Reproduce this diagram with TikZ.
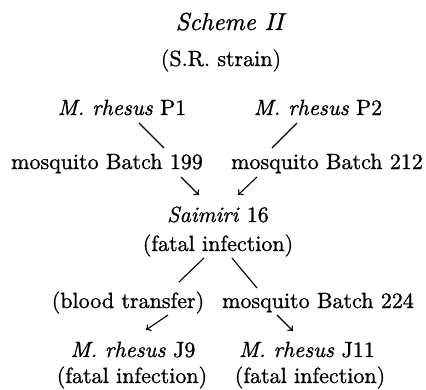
\documentclass[tikz,border=0pt]{standalone}
\usepackage{fontspec}
\newfontfamily\heavyface{lmroman10-regular.otf}[FakeBold=1, ItalicFont=lmroman10-italic.otf, ItalicFeatures={FakeBold=1}]
\usetikzlibrary{arrows.meta}
\begin{document}
\begin{tikzpicture}[x=1pt,y=-1pt,
  txt/.style={anchor=base, inner sep=0pt, font=\heavyface\fontsize{22}{26}\selectfont},
  link/.style={line width=1.1pt},
  arr/.style={link,-{To[length=4.5pt,width=8pt]}}]
\useasboundingbox (0,0) rectangle (426,389);
\node[txt, font=\heavyface\fontsize{24.5}{28}\selectfont] (title) at (231,30) {\textit{Scheme II}};
\node[txt] (strain) at (221,66) {(S.R. strain)};
\node[txt] (p1) at (122,115) {\textit{M. rhesus} P1};
\node[txt] (p2) at (318,115) {\textit{M. rhesus} P2};
\node[txt] (b199) at (107,169) {mosquito Batch 199};
\node[txt] (b212) at (327,169) {mosquito Batch 212};
\node[txt] (saimiri) at (218,222) {\textit{Saimiri} 16};
\node[txt] (fatal) at (218,251) {(fatal infection)};
\node[txt] (blood) at (128,308) {(blood transfer)};
\node[txt] (b224) at (318,308) {mosquito Batch 224};
\node[txt] (j9) at (133,357) {\textit{M. rhesus} J9};
\node[txt] (j11) at (307,357) {\textit{M. rhesus} J11};
\node[txt] (fj9) at (132,383) {(fatal infection)};
\node[txt] (fj11) at (310,383) {(fatal infection)};
% connector end points
\coordinate (p1e) at (139,123);
\coordinate (b199s) at (164,148);
\coordinate (p2e) at (297,123);
\coordinate (b212s) at (272,148);
\coordinate (b199e) at (181,177);
\coordinate (saiA) at (199,195);
\coordinate (b212e) at (257,177);
\coordinate (saiB) at (238,195);
\coordinate (fatL) at (204,258);
\coordinate (bloodN) at (179,282);
\coordinate (fatR) at (232,258);
\coordinate (b224N) at (257,288);
\coordinate (bloodE) at (168,315);
\coordinate (j9N) at (146,330);
\coordinate (b224E) at (277,315);
\coordinate (j11N) at (293,331);
\draw[link] (p1e) -- (b199s);
\draw[link] (p2e) -- (b212s);
\draw[arr] (b199e) -- (saiA);
\draw[arr] (b212e) -- (saiB);
\draw[link] (fatL) -- (bloodN);
\draw[link] (fatR) -- (b224N);
\draw[arr] (bloodE) -- (j9N);
\draw[arr] (b224E) -- (j11N);
\end{tikzpicture}
\end{document}
